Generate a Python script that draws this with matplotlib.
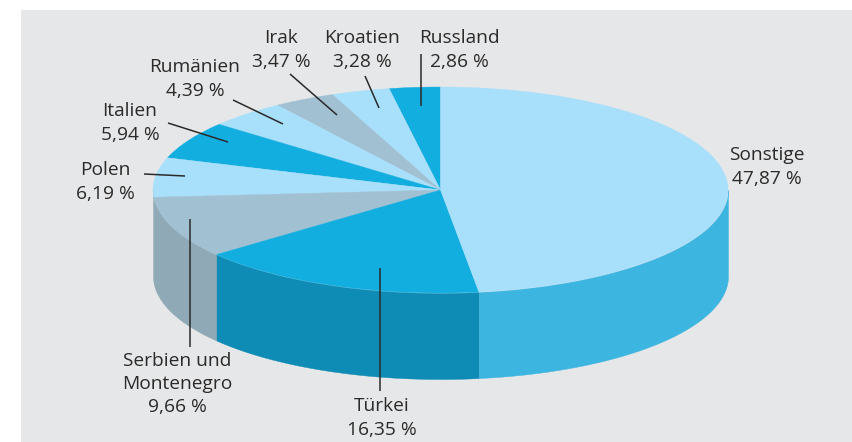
#!/usr/bin/env python3
# -*- coding: utf-8 -*-
"""3D-Tortendiagramm: Anteile nach Herkunftsland"""

import numpy as np
import matplotlib
matplotlib.use('Agg')
import matplotlib.pyplot as plt
from matplotlib.patches import Rectangle

# Daten, gegen den Uhrzeigersinn ab 12 Uhr
countries = ['Russland', 'Kroatien', 'Irak', 'Rumänien', 'Italien', 'Polen',
             'Serbien und\nMontenegro', 'Türkei', 'Sonstige']
values = [2.86, 3.28, 3.47, 4.39, 5.94, 6.19, 9.66, 16.35, 47.87]

LIGHT = '#a8dffb'
BLUE = '#13aee0'
GREY = '#a1c1d3'
top_colors = [BLUE, LIGHT, GREY, LIGHT, BLUE, LIGHT, GREY, BLUE, LIGHT]
side_colors = [None, None, None, None, None, '#8fa9b6', '#8fa9b6', '#0e8cb5', '#3cb6e0']

# Textpositionen in Pixeln (Mitte x, Mitte y)
label_pos = [(459, 50), (362, 50), (281, 50), (195, 79), (130, 123), (105, 182),
             (177, 384), (382, 418), (767, 167)]
# Hinweislinien in Pixeln
leaders = [((421, 54), (421, 106)), ((365, 76), (379, 108)), ((290, 74), (337, 115)),
           ((233, 100), (283, 124)), ((168, 123), (228, 142)), ((144, 174), (185, 176)),
           ((190, 219), (190, 347)), ((380, 268), (380, 391)), None]

W, H = 852, 442
CX, CY = 440.5, 190
RX, RY = 287.5, 103
DEPTH = 86
TEXT = '#2b2a29'

plt.rcParams['font.family'] = ['Open Sans', 'DejaVu Sans']

fig = plt.figure(figsize=(W / 100, H / 100), dpi=100, facecolor='white')

# Hintergrund in Pixelkoordinaten
bg = fig.add_axes([0, 0, 1, 1], zorder=0)
bg.set_xlim(0, W)
bg.set_ylim(H, 0)
bg.axis('off')
bg.add_patch(Rectangle((21, 10), W - 21, H - 10, color='#e6e7e9', lw=0))

# Torte: Einheitskreis, durch die Achsengrenzen zur Ellipse gestaucht
ax = fig.add_axes([0, 0, 1, 1], zorder=1)
ax.patch.set_visible(False)
wedges, _ = ax.pie(values, colors=top_colors, startangle=90, counterclock=True, radius=1,
                   wedgeprops={'linewidth': 0.3, 'zorder': 3})
for w, c in zip(wedges, top_colors):
    w.set_edgecolor(c)
ax.set_aspect('auto')
ax.set_xlim((0 - CX) / RX, (W - CX) / RX)
ax.set_ylim((CY - H) / RY, (CY - 0) / RY)

# Seitenwand: nur der vordere Teil (180 bis 360 Grad) ist sichtbar
edges = 90 + np.concatenate([[0], np.cumsum(values)]) / np.sum(values) * 360
for i, color in enumerate(side_colors):
    a0, a1 = max(edges[i], 180), min(edges[i + 1], 360)
    if color is None or a1 <= a0:
        continue
    t = np.radians(np.linspace(a0, a1, 120))
    x = np.cos(t)
    y = np.sin(t)
    ax.fill_between(x, y, y - DEPTH / RY, color=color, lw=0.3, zorder=2)

# Beschriftung und Hinweislinien
fg = fig.add_axes([0, 0, 1, 1], zorder=2)
fg.patch.set_visible(False)
fg.set_xlim(0, W)
fg.set_ylim(H, 0)
fg.axis('off')
for name, v, pos, line in zip(countries, values, label_pos, leaders):
    txt = f'{v:.2f}'.replace('.', ',') + ' %'
    fg.text(pos[0], pos[1], f'{name}\n{txt}', ha='center', va='center',
            ma='center', fontsize=13.8, color=TEXT, linespacing=1.36)
    if line is not None:
        fg.plot([line[0][0], line[1][0]], [line[0][1], line[1][1]],
                color=TEXT, lw=1.1, solid_capstyle='butt')

plt.savefig('out.png', dpi=100)
plt.close()
